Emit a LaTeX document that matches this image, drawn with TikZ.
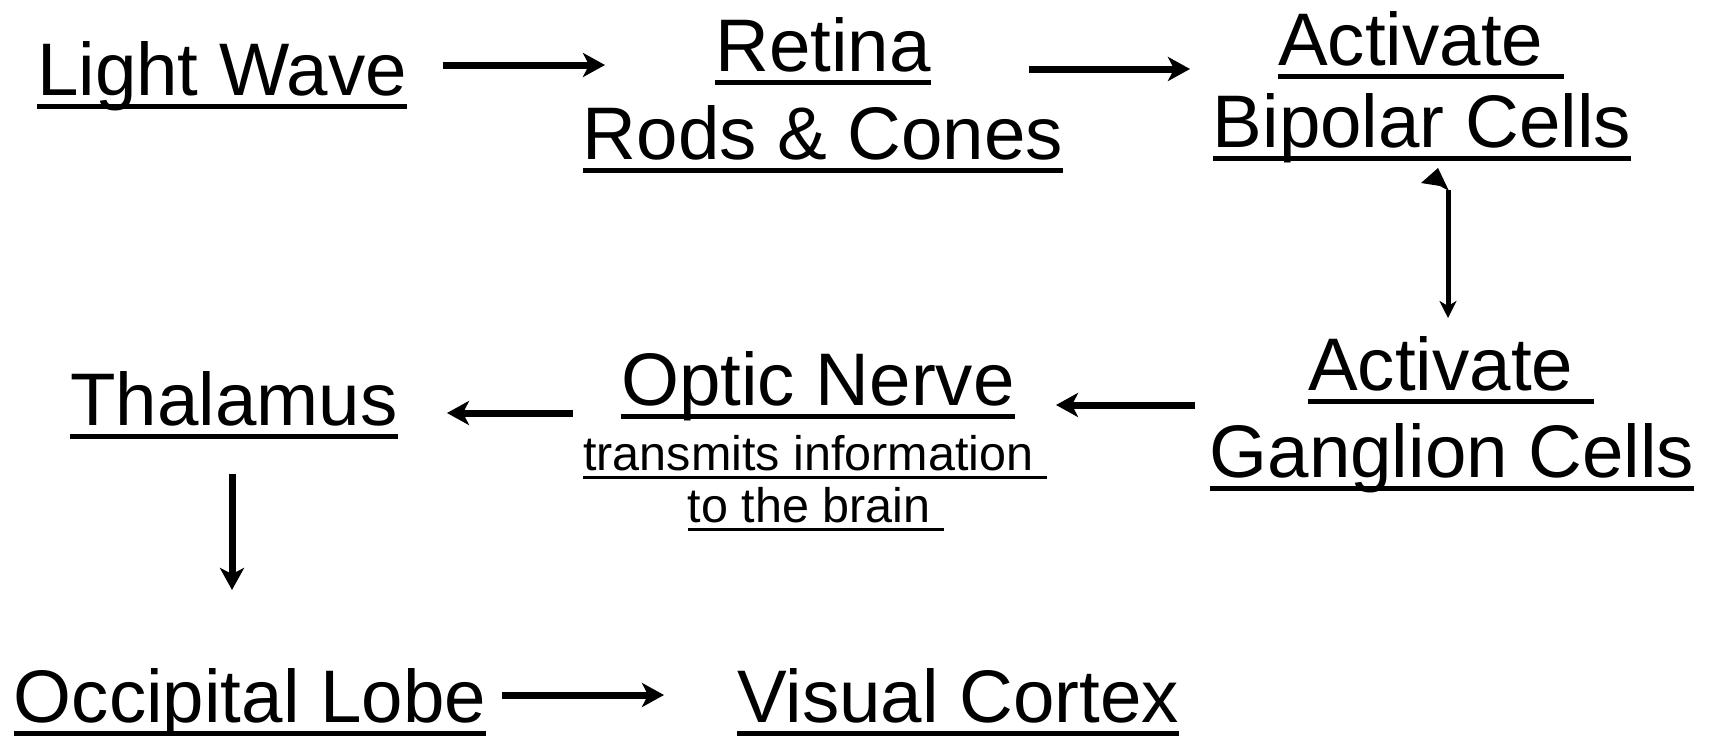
\documentclass[tikz,border=0pt]{standalone}
\usepackage{fontspec}
\setmainfont{Liberation Sans}
\usetikzlibrary{arrows.meta}

% underline drawn at a fixed distance below the baseline, full box width
\newcommand\ulbox[1]{\setbox0=\hbox{#1}\rlap{\vrule height -0.12em depth 0.19em width \wd0}\box0}

\tikzset{
  big/.style={anchor=base, inner sep=0pt, font=\fontsize{74.5}{84}\selectfont},
  small/.style={anchor=base, inner sep=0pt, font=\fontsize{48.5}{52}\selectfont},
  arr/.style={line width=7pt, -{Stealth[length=22pt,width=24pt,inset=6pt]}},
  thinarr/.style={line width=5pt, -{Stealth[length=17pt,width=17pt,inset=5pt]}},
}

\begin{document}
\begin{tikzpicture}[x=1pt,y=-1pt]
\useasboundingbox (0,0) rectangle (1716,736);

% labels
\node[big] (lw)   at (222,95)  {\ulbox{Light Wave}};
\node[big] (ret1) at (823,71)  {\ulbox{Retina}};
\node[big] (ret2) at (823,159) {\ulbox{Rods \& Cones}};
\node[big] (bip1) at (1421,65) {\ulbox{Activate\ }};
\node[big] (bip2) at (1422,147){\ulbox{Bipolar Cells}};
\node[big] (gan1) at (1451,390){\ulbox{Activate\ }};
\node[big] (gan2) at (1452,477){\ulbox{Ganglion Cells}};
\node[big] (opt1) at (818,405) {\ulbox{Optic Nerve}};
\node[small] (opt2) at (815,470) {\ulbox{transmits information\ }};
\node[small] (opt3) at (816,522) {\ulbox{to the brain\ }};
\node[big] (thal) at (234,425) {\ulbox{Thalamus}};
\node[big] (occ)  at (250,722) {\ulbox{Occipital Lobe}};
\node[big] (vis)  at (958,722) {\ulbox{Visual Cortex}};

% connector end points
\coordinate (a1s) at (443,65);   \coordinate (a1e) at (605,65);
\coordinate (a2s) at (1029,69);  \coordinate (a2e) at (1190,69);
\coordinate (a3s) at (1448,190); \coordinate (a3e) at (1448,318);
\coordinate (a4s) at (1195,405); \coordinate (a4e) at (1056,405);
\coordinate (a5s) at (573,413);  \coordinate (a5e) at (447,413);
\coordinate (a6s) at (232,474);  \coordinate (a6e) at (232,590);
\coordinate (a7s) at (502,695);  \coordinate (a7e) at (664,695);

% connectors
\draw[arr] (a1s) -- (a1e);
\draw[arr] (a2s) -- (a2e);
\draw[thinarr] (a3s) -- (a3e);
\fill (1438,168) -- (1421,183) -- (1440,186) -- (1449,191) -- cycle;
\draw[arr] (a4s) -- (a4e);
\draw[arr] (a5s) -- (a5e);
\draw[arr] (a6s) -- (a6e);
\draw[arr] (a7s) -- (a7e);
\end{tikzpicture}
\end{document}
